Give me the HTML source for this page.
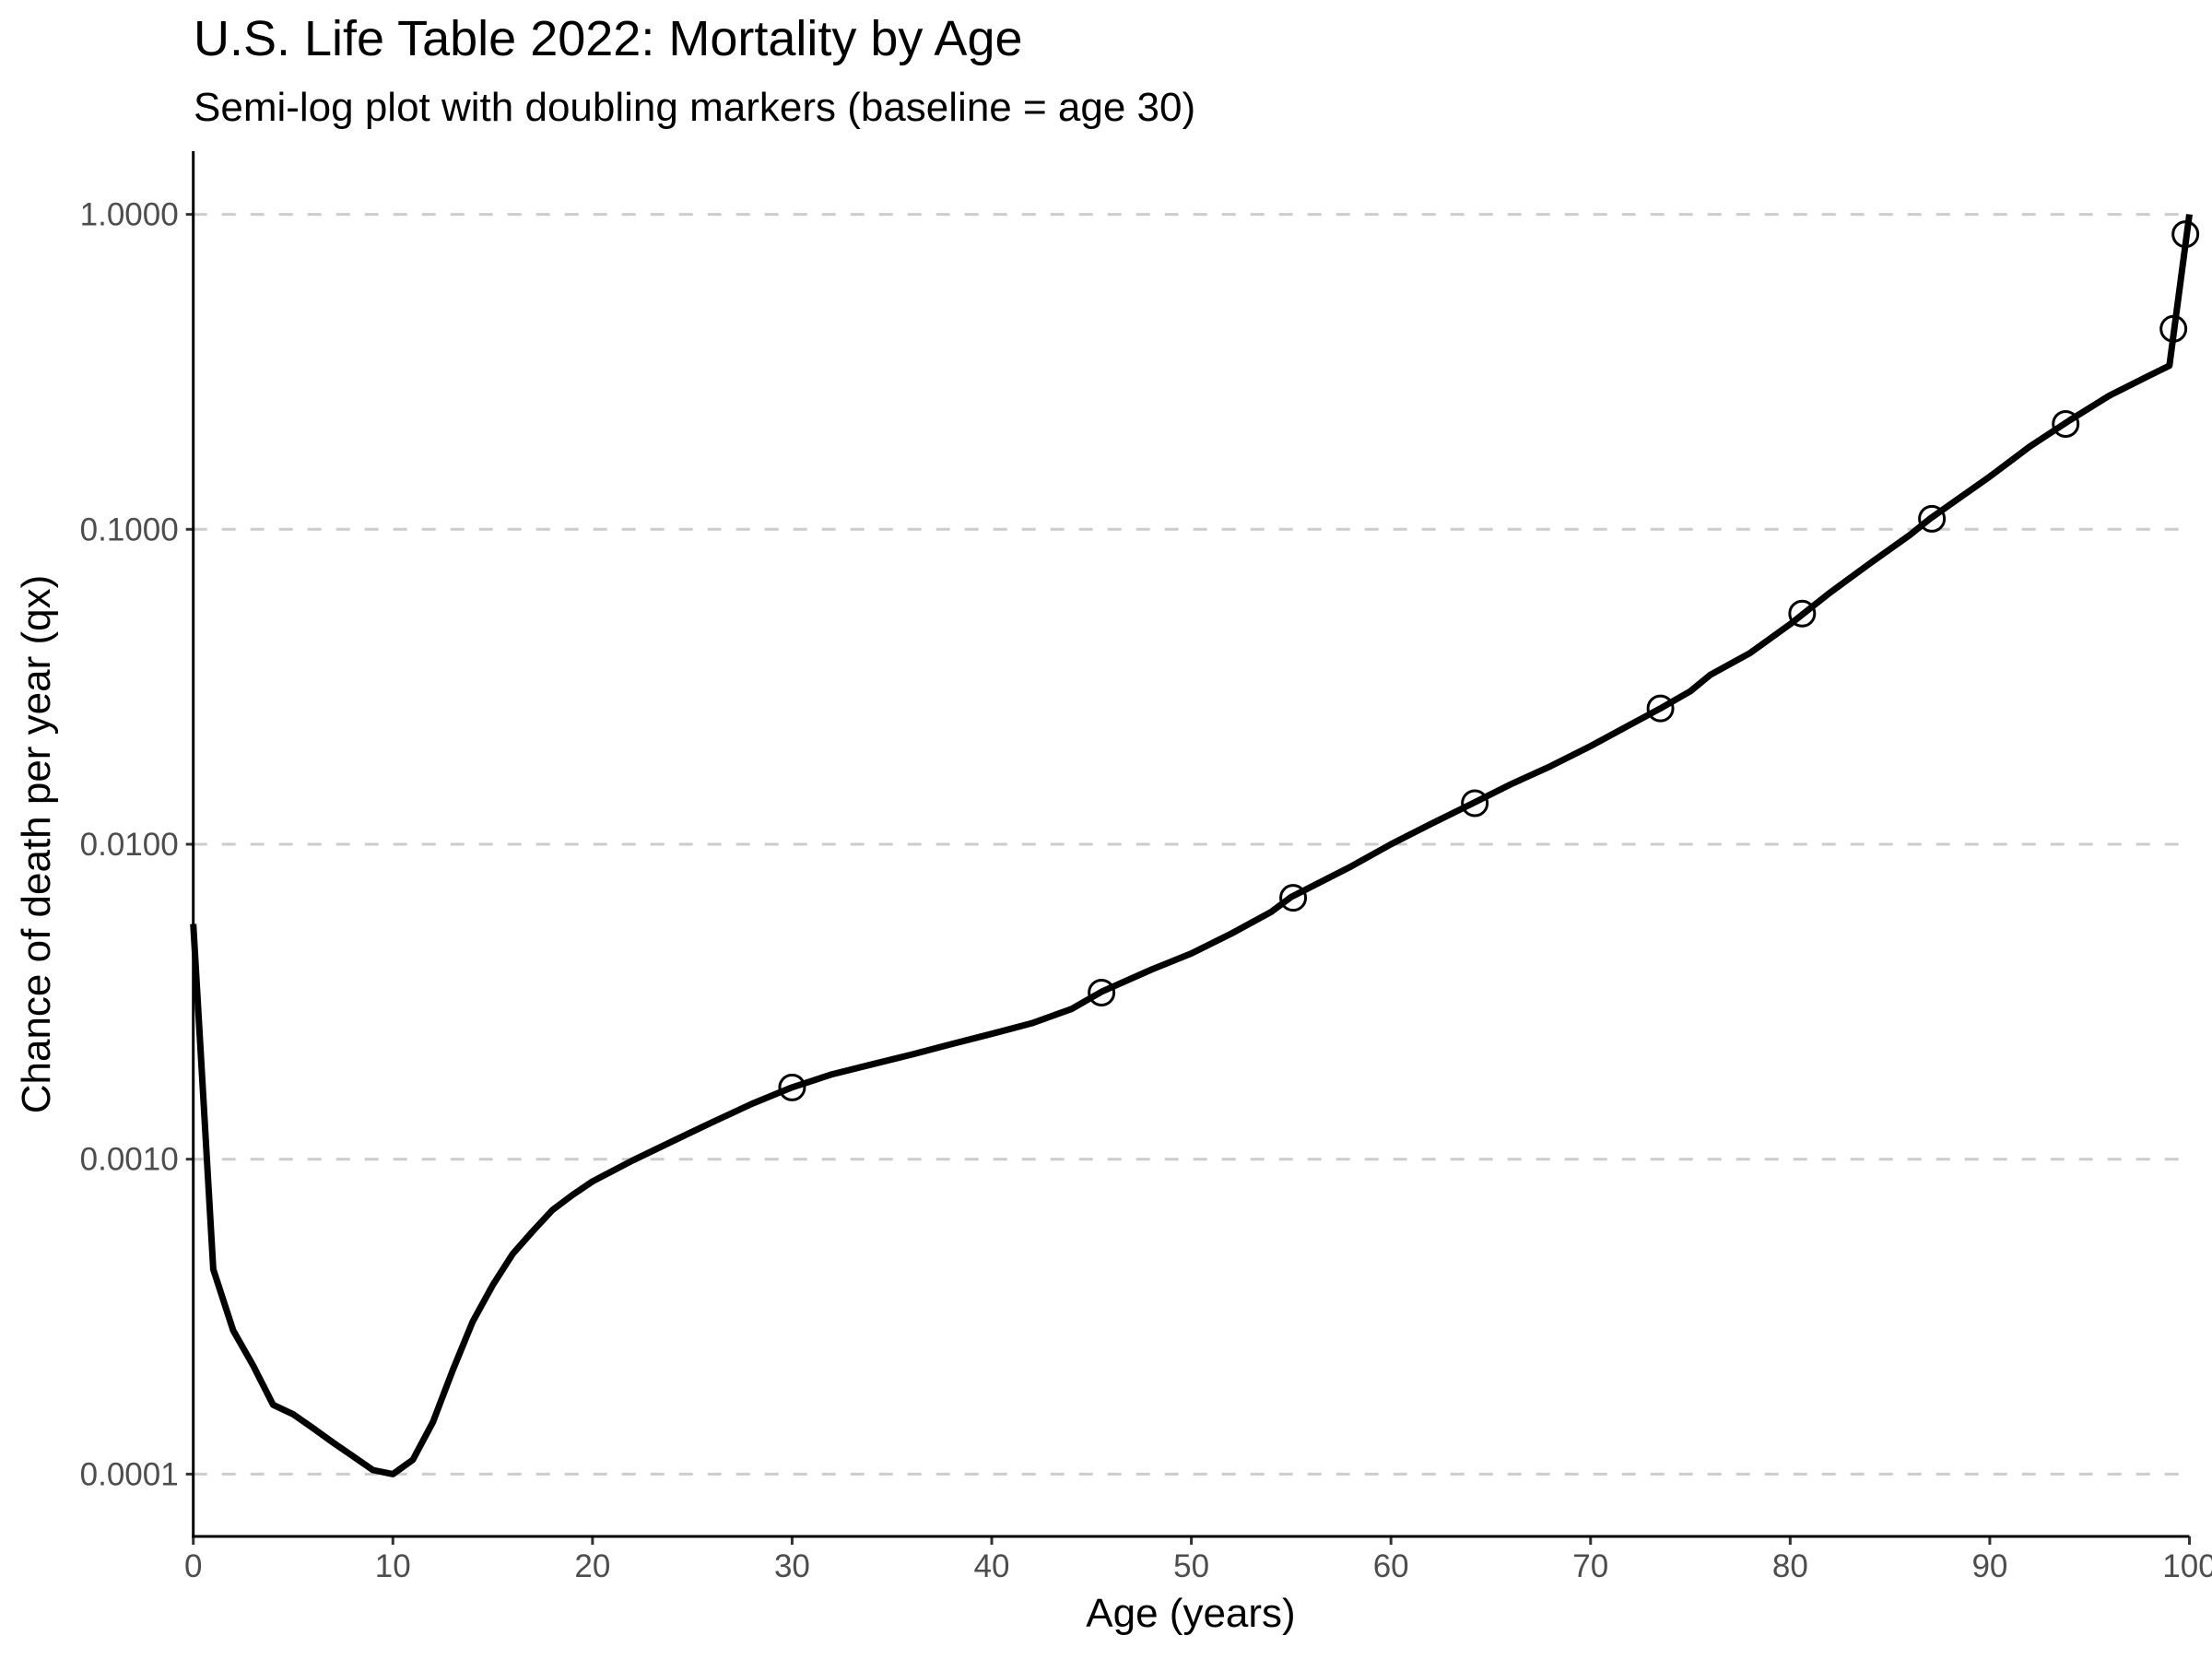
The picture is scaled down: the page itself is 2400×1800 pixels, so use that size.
<!DOCTYPE html>
<html><head><meta charset="utf-8"><style>
body{margin:0;background:#fff}
svg{display:block;font-family:"Liberation Sans",sans-serif}
</style></head><body>
<svg id="chart" width="2400" height="1800" viewBox="0 0 2400 1800">
<text x="210" y="60" font-size="54" fill="#000">U.S. Life Table 2022: Mortality by Age</text>
<text x="210" y="131" font-size="44" fill="#000">Semi-log plot with doubling markers (baseline = age 30)</text>
<g id="grid"></g>
<g id="axes"></g>
<g id="series"></g>
<text x="1292" y="1765" font-size="44" text-anchor="middle" fill="#000">Age (years)</text>
<text transform="translate(54,916) rotate(-90)" font-size="44" text-anchor="middle" fill="#000">Chance of death per year (qx)</text>
</svg>
<script>
const ages=[0,1,2,3,4,5,6,7,8,9,10,11,12,13,14,15,16,17,18,19,20,22,24,26,28,30,32,34,36,38,40,42,44,45.5,48,50,52,54,55,58,60,62,64,66,68,70,72,73.5,75,76,78,80,82,84,86,87,90,92,94,96,98,99,100];
const qx=[0.00558,0.000447,0.000286,0.000221,0.000166,0.000155,0.00014,0.000126,0.000114,0.000103,0.0001,0.000111,0.000146,0.000214,0.000305,0.000398,0.0005,0.00059,0.00069,0.00077,0.00085,0.00099,0.00114,0.00131,0.0015,0.00169,0.00186,0.002,0.00215,0.00232,0.0025,0.0027,0.0030,0.0034,0.0040,0.0045,0.0052,0.0061,0.0068,0.0085,0.0100,0.0116,0.0134,0.0155,0.0177,0.0205,0.024,0.027,0.0306,0.0345,0.0405,0.050,0.063,0.078,0.096,0.108,0.147,0.183,0.222,0.266,0.308,0.331,1.0];
const markerAges=[30,45.5,55.1,64.2,73.5,80.6,87.1,93.8,99.2,99.8];
const markerValues=[0.00169,0.00338,0.00676,0.0135,0.027,0.054,0.108,0.216,0.433,0.865];
const xTicks=[0,10,20,30,40,50,60,70,80,90,100];
const yTicks=[0.0001,0.001,0.01,0.1,1];
const yTickLabels=["0.0001","0.0010","0.0100","0.1000","1.0000"];
const NS="http://www.w3.org/2000/svg";
const X0=209.7,X1=2375.5,YTOP=232.6,DEC=341.7;
const xs=a=>X0+(X1-X0)*a/100;
const ys=v=>YTOP+(-Math.log10(v))*DEC;
function mk(t,attrs,parent){const e=document.createElementNS(NS,t);for(const k in attrs)e.setAttribute(k,attrs[k]);parent.appendChild(e);return e;}
const grid=document.getElementById('grid'),axes=document.getElementById('axes'),series=document.getElementById('series');
yTicks.forEach((v,i)=>{
  const l=mk('line',{x1:X0,x2:X1,y1:ys(v),y2:ys(v),stroke:'#cccccc','stroke-width':3,'stroke-dasharray':'15 16'},grid);
  
  
  const t=mk('line',{x1:X0-8,x2:X0,y1:ys(v),y2:ys(v),stroke:'#333','stroke-width':3},axes);
  
  
  const tx=mk('text',{x:X0-16,y:ys(v)+12,'font-size':35,'text-anchor':'end',fill:'#4d4d4d'},axes);
  tx.textContent=yTickLabels[i];
  
  
});
xTicks.forEach(a=>{
  const t=mk('line',{x1:xs(a),x2:xs(a),y1:1667,y2:1676,stroke:'#333','stroke-width':3},axes);
  
  
  const tx=mk('text',{x:xs(a),y:1711,'font-size':35,'text-anchor':'middle',fill:'#4d4d4d'},axes);
  tx.textContent=a;
  
  
});
const ya=mk('line',{x1:X0,x2:X0,y1:164,y2:1668.5,stroke:'#000','stroke-width':3},axes);


const xa=mk('line',{x1:X0-1.5,x2:X1,y1:1667,y2:1667,stroke:'#000','stroke-width':3},axes);


const pts=ages.map((a,i)=>xs(a).toFixed(1)+','+ys(qx[i]).toFixed(1)).join(' ');
const pl=mk('polyline',{points:pts,fill:'none',stroke:'#000','stroke-width':7,'stroke-linejoin':'round'},series);


markerAges.forEach((a,i)=>{
  const c=mk('circle',{cx:xs(a),cy:ys(markerValues[i]),r:13.5,fill:'none',stroke:'#000','stroke-width':3},series);
  
  
});
</script>
</body></html>
